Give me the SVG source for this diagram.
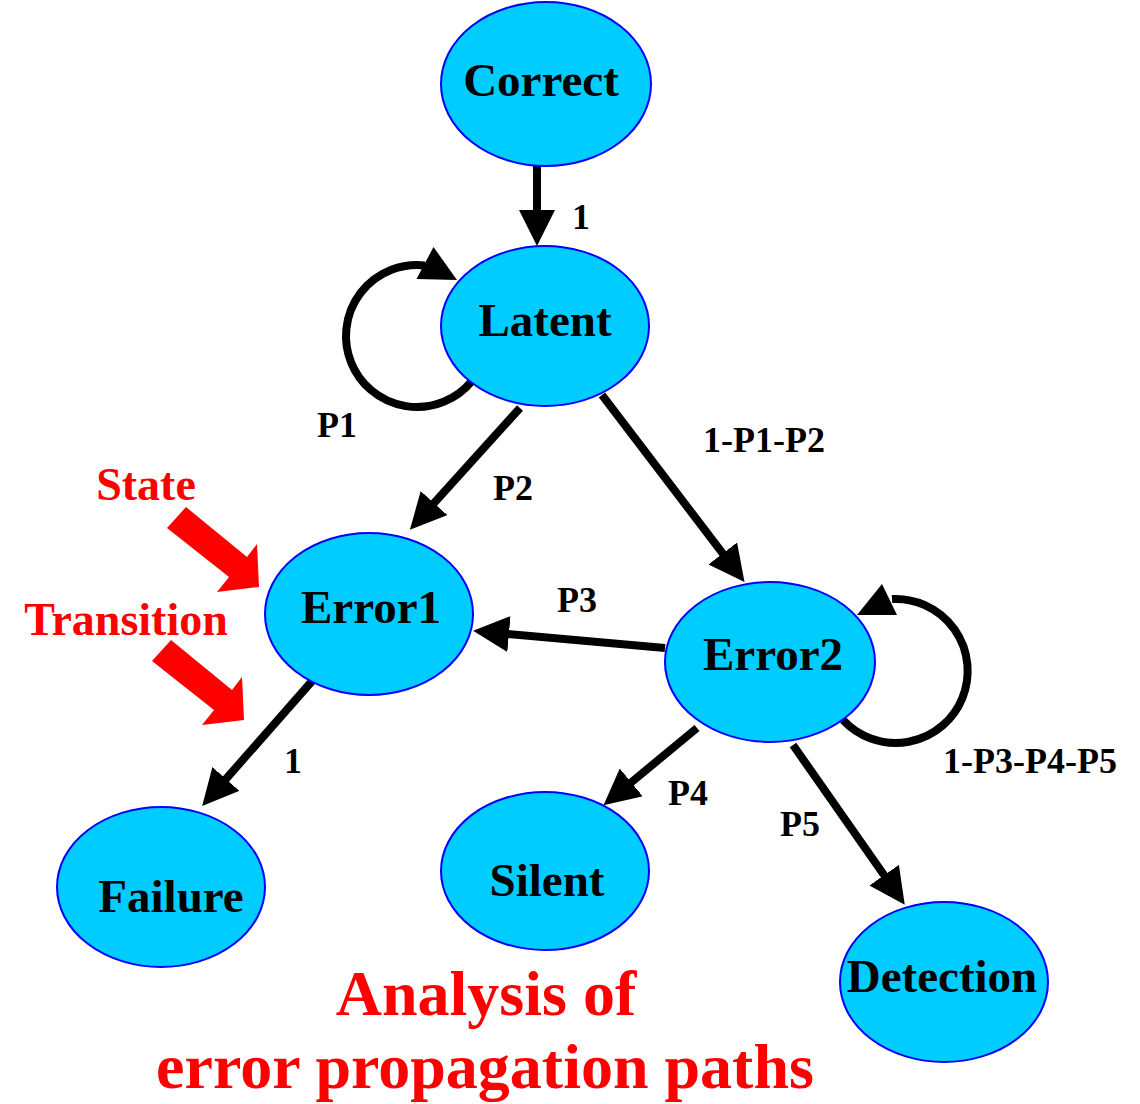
<svg xmlns="http://www.w3.org/2000/svg" width="1140" height="1104" viewBox="0 0 1140 1104">
<style>
.node ellipse{fill:#00ccff;stroke:#0000ff;stroke-width:2}
.node text{font-family:"Liberation Serif",serif;font-weight:bold;font-size:47px;fill:#000;text-anchor:middle}
.edge{fill:none;stroke:#000;stroke-width:8}
.lbl{font-family:"Liberation Serif",serif;font-weight:bold;font-size:36px;fill:#000;text-anchor:middle}
.red{font-family:"Liberation Serif",serif;font-weight:bold;fill:#ff0000;text-anchor:middle}
</style>
<defs>
<marker id="ah" markerUnits="userSpaceOnUse" markerWidth="36" markerHeight="36" viewBox="0 0 36 36" refX="12" refY="18" orient="auto">
<path d="M0,0 L36,18 L0,36 z" fill="#000"/>
</marker>
</defs>
<g id="connectors">
<line class="edge" x1="537" y1="166" x2="537" y2="222" marker-end="url(#ah)"/>
<line class="edge" x1="520" y1="408" x2="426" y2="512" marker-end="url(#ah)"/>
<line class="edge" x1="602" y1="395" x2="730" y2="563" marker-end="url(#ah)"/>
<line class="edge" x1="665" y1="648" x2="497" y2="633" marker-end="url(#ah)"/>
<line class="edge" x1="697" y1="728" x2="622" y2="790" marker-end="url(#ah)"/>
<line class="edge" x1="793" y1="745" x2="891" y2="885" marker-end="url(#ah)"/>
<line class="edge" x1="313" y1="680" x2="218" y2="788" marker-end="url(#ah)"/>
<path class="edge" d="M471.4,381.6 A71,71 0 1 1 424.8,265.4"/>
<polygon points="433.5,247 416.5,279 457,280" fill="#000"/>
<path class="edge" d="M843,720 A72,72 0 1 0 892,599"/>
<polygon points="882,584 897,615 857,615" fill="#000"/>
<text class="lbl" x="581" y="229">1</text>
<text class="lbl" x="337" y="437">P1</text>
<text class="lbl" x="513" y="500">P2</text>
<text class="lbl" x="764" y="452">1-P1-P2</text>
<text class="lbl" x="577" y="612">P3</text>
<text class="lbl" x="1030" y="773">1-P3-P4-P5</text>
<text class="lbl" x="688" y="805">P4</text>
<text class="lbl" x="800" y="836">P5</text>
<text class="lbl" x="293" y="773">1</text>
</g>
<g id="node-correct" class="node"><ellipse cx="546" cy="84" rx="105" ry="82"/><text x="541" y="96">Correct</text></g>
<g id="node-latent" class="node"><ellipse cx="545" cy="326" rx="104" ry="80"/><text x="545" y="336">Latent</text></g>
<g id="node-error1" class="node"><ellipse cx="369" cy="614" rx="104" ry="81"/><text x="371" y="623">Error1</text></g>
<g id="node-error2" class="node"><ellipse cx="770" cy="662" rx="105" ry="80"/><text x="773" y="670">Error2</text></g>
<g id="node-failure" class="node"><ellipse cx="161" cy="887" rx="104" ry="80"/><text x="171" y="912">Failure</text></g>
<g id="node-silent" class="node"><ellipse cx="545" cy="871" rx="104" ry="79"/><text x="547" y="896">Silent</text></g>
<g id="node-detection" class="node"><ellipse cx="944" cy="982" rx="104" ry="80"/><text x="942" y="992">Detection</text></g>
<g id="annotations">
<text class="red" x="146" y="500" font-size="46">State</text>
<polygon points="167,528 186,507 247,557 257,544 259,587 217,592 229,577" fill="#ff0000"/>
<text class="red" x="126" y="635" font-size="46">Transition</text>
<polygon points="152,661 171,640 232,690 242,677 244,720 202,725 214,710" fill="#ff0000"/>
<text class="red" x="486" y="1015" font-size="64">Analysis of</text>
<text class="red" x="485" y="1088" font-size="64">error propagation paths</text>
</g>
</svg>
